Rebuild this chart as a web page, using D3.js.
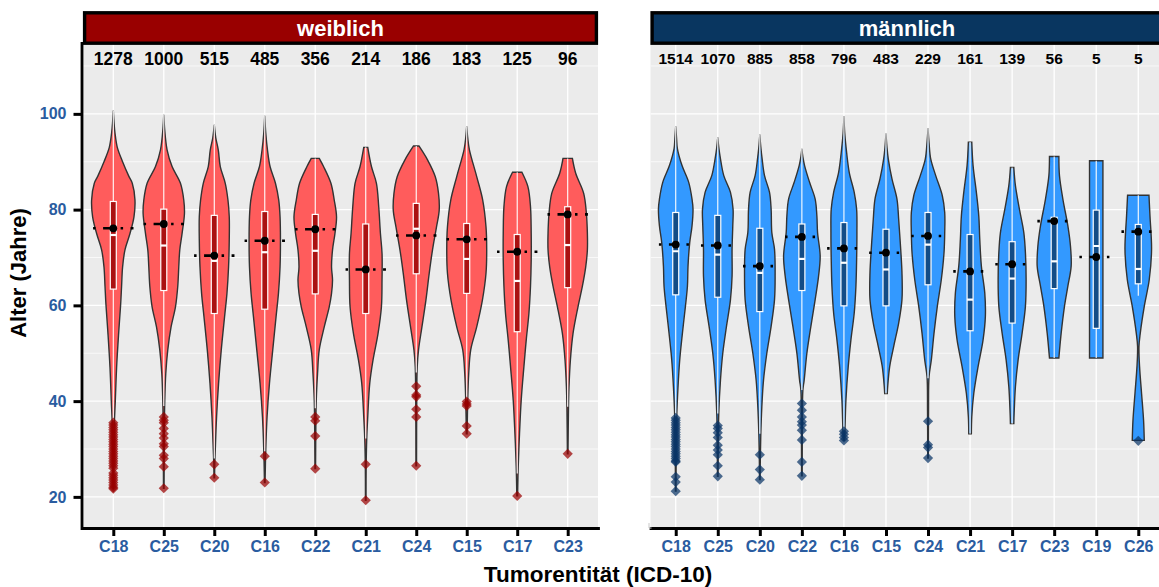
<!DOCTYPE html>
<html><head><meta charset="utf-8">
<script src="https://cdn.jsdelivr.net/npm/d3@7"></script>
<style>
body{margin:0;background:#fff}
svg{display:block}
text{font-family:"Liberation Sans",Arial,Helvetica,sans-serif;font-weight:bold}
</style>
</head><body>
<svg id="chart" width="1159" height="587"></svg>
<script>
// ---------------- DATA ----------------
const yTicks = [20, 40, 60, 80, 100];
const yMinorTicks = [30, 50, 70, 90, 110];
const yTitle = "Alter (Jahre)";
const xTitle = "Tumorentität (ICD-10)";
const facetLabels = ["weiblich", "männlich"];

// weiblich
const femaleCats = ["C18","C25","C20","C16","C22","C21","C24","C15","C17","C23"];
const femaleCounts = [1278,1000,515,485,356,214,186,183,125,96];
const femaleQ1 = [63.4,63.1,58.3,59.2,62.4,58.3,66.6,62.5,54.5,63.7];
const femaleMedian = [74.7,72.5,69.3,71.1,71.4,67.5,76.0,69.7,65.1,72.6];
const femaleQ3 = [81.7,80.1,78.8,79.6,79.0,77.0,81.3,77.1,74.8,80.6];
const femaleWhiskerLow = [36.0,39.0,28.0,29.5,38.5,32.2,46.0,40.6,24.9,38.8];
const femaleWhiskerHigh = [100.7,99.8,97.7,99.6,90.7,93.0,93.3,97.4,87.8,90.7];
const femaleMean = [76.1,77.0,70.4,73.5,75.9,67.5,74.6,73.8,71.2,79.0];
const femaleOutliers = [
  [35.5,35,34.5,34,33.5,33,32.5,32,31.5,31,30.5,30,29.5,29,28.5,28,27.5,27,26.5,26,25,24.5,24,23.5,23,22.5,22,21.7],
  [36.7,36,35.5,34.3,33.2,32.3,31.1,30.5,28.7,28,26.3,21.8],
  [26.8,24.0],
  [28.5,23.0],
  [36.7,35.9,32.7,25.9],
  [26.8,19.3],
  [43.1,41.3,40.9,38.3,36.7,26.5],
  [39.9,39.4,39.0,34.8,33.2],
  [20.2],
  [29.0]
];
// violin profiles: [age, relative density]
const femaleViolins = [
  [[100.7,0],[98,0.8],[96,1.7],[93,4],[90,9.3],[87,15.5],[85.5,19],[82,21.7],[78.5,20.7],[75,16.7],[71.6,11.7],[68,9.3],[64,8.3],[60,7.3],[54,5.3],[47,3.3],[40,2],[35,1],[30,0.6],[21.7,0.3]],
  [[99.8,0],[97,0.8],[92.5,3.3],[89,8.3],[85.5,16.7],[82,20],[79.2,20.7],[75,18.3],[71.6,16],[68,15],[64,14],[59.7,11.7],[55.5,7.3],[50.7,4],[45.8,2],[40.2,1],[35,0.6],[28,0.4],[21.8,0.3]],
  [[97.7,0],[95,1.5],[92.5,4],[89,6],[85.5,11],[82,13.7],[78.5,15],[73.7,15],[68,14.3],[62.5,12.7],[57.6,10.3],[50.7,7],[43.7,4.3],[36.7,2.3],[29.8,1],[27,0.5],[24,0.3]],
  [[99.6,0],[96,1],[92.5,2.7],[89,5.3],[85.5,10.7],[82,14],[78.5,15.3],[73.7,15.7],[68,15.3],[62.5,13.7],[57.6,11.3],[50.7,8],[43.7,4.7],[36.7,2.3],[29.8,1],[23,0.3]],
  [[90.7,4],[89,8.3],[85.5,15.7],[82,19],[78.5,21.3],[75,19.7],[71.6,17.3],[68,16.3],[65.3,17.3],[62.5,16.3],[59.7,14],[55.5,9],[50.7,4],[45.8,2.3],[40.2,1],[35,0.6],[25.9,0.3]],
  [[93,2],[89,5.7],[85.5,10.7],[80.6,13],[75,14.7],[70.9,16.3],[65.3,16.3],[59.7,15.7],[54.1,12.3],[48.6,7.3],[43.7,4],[36.7,2],[32.2,1],[26,0.4],[19.3,0.3]],
  [[93.3,2.7],[90.4,11.3],[86.9,19],[83.4,22.3],[79.9,23],[76.4,20.3],[71.6,16.3],[66.7,13],[61.1,9.7],[55.5,5.7],[50.7,2.3],[47.2,1],[40,0.5],[26.5,0.3]],
  [[97.4,0],[95,1],[92.5,2.7],[86.9,10],[82,16],[76.4,19.3],[71.6,20],[66.7,19.3],[61.1,15.7],[55.5,10],[50.7,4],[45.8,2],[40.2,1],[33.2,0.4]],
  [[87.8,4.7],[84.8,10.7],[80.6,13.3],[75,14],[69.5,14],[64,13.3],[58.3,11.7],[52.7,9],[47.2,6.7],[40.2,4],[33.2,2.3],[26.3,1],[20.2,0.4]],
  [[90.7,4.7],[87.6,8],[83.4,16],[79.2,18.7],[75,19.7],[71.6,19.7],[68,18],[64,14.7],[59.7,10.3],[54.1,5.3],[48.6,2.7],[43,1.3],[38.8,0.8],[29,0.3]]
];

// männlich
const maleCats = ["C18","C25","C20","C22","C16","C15","C24","C21","C17","C23","C19","C26"];
const maleCounts = [1514,1070,885,858,796,483,229,161,139,56,5,5];
const maleQ1 = [62.2,61.7,58.7,63.1,59.9,59.9,64.3,54.7,56.3,63.5,55.2,64.5];
const maleMedian = [71.3,70.6,66.8,69.7,68.9,67.5,72.7,61.2,65.6,69.2,72.4,67.6];
const maleQ3 = [79.4,78.8,76.1,77.0,77.3,75.9,79.4,74.8,73.3,78.4,79.9,76.9];
const maleWhiskerLow = [36.8,37.4,33.2,42.3,33.9,41.6,44.8,33.2,35.3,49.0,49.0,62.0];
const maleWhiskerHigh = [97.4,95.1,95.7,92.7,99.5,95.9,97.0,94.1,88.8,91.1,90.2,83.0];
const maleMean = [72.7,72.5,68.2,74.3,71.9,71.0,74.5,67.1,68.6,77.6,70.1,75.4];
const maleOutliers = [
  [36.5,36,35.5,35,34.5,34,33.5,33,32.5,32,31.5,31,30.5,30,29.5,29,28.5,28,27.5,27.3,24.2,23.1,21.2],
  [34.9,34.3,33.4,32.4,30.8,29.8,28.8,26.5,24.3],
  [28.8,25.7,23.6],
  [39.5,38.1,36.7,35.7,35.0,33.9,31.9,27.3,24.4],
  [33.7,33.1,32.4,31.8],
  [],
  [35.8,30.9,30.3,28.1],
  [],
  [],
  [],
  [],
  [31.7]
];
const maleViolins = [
  [[97.4,0],[95,0.8],[92.7,1.7],[89.2,6.3],[85.7,13],[82.2,16.3],[80.1,17.3],[76.6,16.3],[73.1,14],[68.2,12.3],[64,11.7],[59.8,9.7],[54.2,6.7],[48.6,4],[43,2.3],[36.7,1],[30,0.5],[21.2,0.3]],
  [[95.1,0],[93,1],[90.6,2.7],[87.1,6],[83.6,12.7],[80.1,15.3],[76.6,15],[71.7,14.3],[66.1,14.3],[61.2,12.7],[55.6,8.7],[50,5],[44.4,2.7],[37.4,1],[30,0.5],[24.3,0.3]],
  [[95.7,0],[93,1],[90.6,2.3],[87.1,4.7],[83.6,9.7],[80.1,11.3],[75.2,12],[71.7,14.7],[66.1,15.3],[61.2,14.7],[55.6,11.3],[50,7],[44.4,3.7],[38.8,2],[33.2,1],[28,0.5],[23.6,0.3]],
  [[92.7,0],[91,1],[89.2,2.7],[85.7,7.7],[82.2,13.3],[78.7,15],[75.2,15.7],[70.3,18.3],[66.1,16.7],[61.2,13.3],[55.6,9],[50,5],[44.4,2.3],[42.3,1],[35,0.5],[24.4,0.3]],
  [[99.5,0],[96,0.8],[92.7,2.3],[87.8,5.3],[83.6,10.3],[80.1,12.7],[75.2,13],[69.6,12.7],[64,12],[58.4,10.3],[52.8,7],[47.2,4.3],[40.2,2],[33.9,1],[31.8,0.5]],
  [[95.9,0],[93,1],[90.6,2.3],[86.4,6],[82.2,11],[78,12.7],[73.1,14.3],[66.8,16],[61.2,16],[56.3,12.7],[51.4,7.7],[47.2,3.7],[43,1.7],[41.6,1.3]],
  [[97,0],[94,1],[90.6,2.7],[87.1,7.7],[82.9,14.3],[79.4,16.7],[75.2,16.7],[71,16],[65.4,13.3],[59.8,9.3],[54.2,6],[48.6,3.3],[45.1,1],[38,0.5],[28.1,0.3]],
  [[94.1,1.7],[89.2,3],[83.6,6.3],[78.7,8.7],[73.8,9.7],[68.2,11.3],[62.6,14.7],[57.7,15.3],[52.8,13],[47.2,8],[41.6,3.7],[36.7,1.7],[33.2,1.3]],
  [[88.8,1.7],[85,3.3],[80.1,7.3],[75.2,11.7],[71,13.3],[65.4,14],[59.8,13.3],[54.2,10],[48.6,6],[43,3.3],[37.4,2],[35.3,1.7]],
  [[91.1,4.7],[87.1,5.3],[82.2,8.7],[76.6,13.7],[72.4,16.3],[68.2,17],[64,13.7],[59.8,10.3],[54.2,7],[49,4.7]],
  [[90.2,6.7],[80,6.7],[70,6.7],[60,6.7],[49,6.7]],
  [[83,10.7],[78.7,11.7],[71.7,13.3],[65.4,11],[59.8,6],[54.2,2],[51.4,0.7],[47.2,1.3],[41.6,3.3],[36,5.3],[31.8,6]]
];

// ---------------- CHART ----------------
const svg = d3.select("#chart");
const panelTop = 43, panelBottom = 528;
const y = d3.scaleLinear().domain([13.5, 114.8]).range([panelBottom, panelTop]);
const countY = 111.5;
const tickBlue = "#2A5CA0";

const panels = [
  {label: facetLabels[0], cats: femaleCats, counts: femaleCounts, q1: femaleQ1, med: femaleMedian, q3: femaleQ3,
   wlo: femaleWhiskerLow, whi: femaleWhiskerHigh, mean: femaleMean, out: femaleOutliers, vio: femaleViolins,
   left: 83, right: 598, strip: "#990000", fill: "#FF5C5C", boxFill: "#AA1111", outFill: "#990000",
   countSize: 17.5, widthFrac: 0.455, yAxis: true},
  {label: facetLabels[1], cats: maleCats, counts: maleCounts, q1: maleQ1, med: maleMedian, q3: maleQ3,
   wlo: maleWhiskerLow, whi: maleWhiskerHigh, mean: maleMean, out: maleOutliers, vio: maleViolins,
   left: 650.5, right: 1163.5, strip: "#093660", fill: "#3399FF", boxFill: "#134C86", outFill: "#0A3566",
   countSize: 15.5, widthFrac: 0.435, yAxis: false}
];

const defs = svg.append("defs");

panels.forEach((p, pi) => {
  const x = d3.scalePoint().domain(p.cats).range([p.left, p.right]).padding(0.6);
  const step = x.step();
  const maxD = d3.max(p.vio, v => d3.max(v, d => d[1]));
  const w = d3.scaleLinear().domain([0, maxD]).range([0, p.widthFrac * step]);

  defs.append("clipPath").attr("id", "clip" + pi)
    .append("rect").attr("x", p.left).attr("y", panelTop).attr("width", p.right - p.left).attr("height", panelBottom - panelTop);

  const g = svg.append("g");
  g.append("rect").attr("x", p.left).attr("y", panelTop).attr("width", p.right - p.left)
    .attr("height", panelBottom - panelTop).attr("fill", "#EBEBEB");

  const grid = g.append("g").attr("clip-path", `url(#clip${pi})`);
  grid.selectAll(".minor").data(yMinorTicks).join("line")
    .attr("x1", p.left).attr("x2", p.right).attr("y1", d => y(d)).attr("y2", d => y(d))
    .attr("stroke", "#fff").attr("stroke-width", 0.7);
  grid.selectAll(".major").data(yTicks).join("line").attr("class", "major")
    .attr("x1", p.left).attr("x2", p.right).attr("y1", d => y(d)).attr("y2", d => y(d))
    .attr("stroke", "#fff").attr("stroke-width", 1.3);
  grid.selectAll(".vgrid").data(p.cats).join("line").attr("class", "vgrid")
    .attr("x1", d => x(d)).attr("x2", d => x(d)).attr("y1", panelTop).attr("y2", panelBottom)
    .attr("stroke", "#fff").attr("stroke-width", 1.3);

  const plot = g.append("g").attr("clip-path", `url(#clip${pi})`);

  p.cats.forEach((c, i) => {
    const cx = x(c);
    const area = d3.area()
      .curve(d3.curveCatmullRom.alpha(0.5))
      .y(d => y(d[0]))
      .x0(d => cx - w(d[1]))
      .x1(d => cx + w(d[1]));
    const cg = plot.append("g");
    cg.append("path").attr("d", area(p.vio[i]))
      .attr("fill", p.fill).attr("stroke", "#333").attr("stroke-width", 1.4);
    // whiskers
    cg.append("line").attr("x1", cx).attr("x2", cx).attr("y1", y(p.q3[i])).attr("y2", y(p.whi[i]))
      .attr("stroke", "#fff").attr("stroke-width", 1.1);
    cg.append("line").attr("x1", cx).attr("x2", cx).attr("y1", y(p.q1[i])).attr("y2", y(p.wlo[i]))
      .attr("stroke", "#fff").attr("stroke-width", 1.1);
    // box
    const bw = 6;
    cg.append("rect").attr("x", cx - bw / 2).attr("width", bw)
      .attr("y", y(p.q3[i])).attr("height", y(p.q1[i]) - y(p.q3[i]))
      .attr("fill", p.boxFill).attr("stroke", "#fff").attr("stroke-width", 1.2);
    cg.append("line").attr("x1", cx - bw / 2).attr("x2", cx + bw / 2)
      .attr("y1", y(p.med[i])).attr("y2", y(p.med[i]))
      .attr("stroke", "#fff").attr("stroke-width", 2.2);
    // outliers
    cg.selectAll(".out").data(p.out[i]).join("path").attr("class", "out")
      .attr("d", d3.symbol().type(d3.symbolSquare).size(52)())
      .attr("transform", d => `translate(${cx},${y(d)}) rotate(45)`)
      .attr("fill", p.outFill).attr("fill-opacity", 0.72);
  });

  // mean errorbars + points (on top)
  p.cats.forEach((c, i) => {
    const cx = x(c);
    plot.append("line").attr("x1", cx - 0.4 * step).attr("x2", cx + 0.4 * step)
      .attr("y1", y(p.mean[i])).attr("y2", y(p.mean[i]))
      .attr("stroke", "#000").attr("stroke-width", 2.6).attr("stroke-dasharray", "2.5,7.5,10,7.5");
    plot.append("circle").attr("cx", cx).attr("cy", y(p.mean[i])).attr("r", 3.9).attr("fill", "#000");
  });

  // counts
  g.selectAll(".cnt").data(p.cats).join("text").attr("class", "cnt")
    .attr("x", d => x(d)).attr("y", y(countY)).attr("text-anchor", "middle")
    .attr("dominant-baseline", "central").attr("font-size", p.countSize).attr("fill", "#000")
    .text((d, i) => p.counts[i]);

  // strip
  svg.append("rect").attr("x", p.left + 1.6).attr("y", 12.8).attr("width", p.right - p.left - 3.2).attr("height", 30.4)
    .attr("fill", p.strip).attr("stroke", "#000").attr("stroke-width", 3.4);
  svg.append("text").attr("x", (p.left + p.right) / 2).attr("y", 28.3).attr("text-anchor", "middle")
    .attr("dominant-baseline", "central").attr("font-size", 22).attr("fill", "#fff").text(p.label);

  // x axis
  const xa = svg.append("g").attr("transform", `translate(0,${panelBottom})`)
    .call(d3.axisBottom(x).tickSize(8).tickSizeOuter(0).tickPadding(4.5));
  xa.select(".domain").attr("stroke", "#000").attr("stroke-width", 2.8).attr("stroke-linecap", "square");
  xa.selectAll(".tick line").attr("stroke", "#000").attr("stroke-width", 3);
  xa.selectAll(".tick text").style("font-size", "16px").style("font-weight", "bold").attr("fill", tickBlue);

  if (p.yAxis) {
    const ya = svg.append("g").attr("transform", `translate(${p.left - 1.5},0)`)
      .call(d3.axisLeft(y).tickValues(yTicks).tickSize(8).tickSizeOuter(0).tickPadding(7));
    ya.select(".domain").attr("stroke", "#000").attr("stroke-width", 2.8).attr("stroke-linecap", "square");
    ya.selectAll(".tick line").attr("stroke", "#000").attr("stroke-width", 3);
    ya.selectAll(".tick text").style("font-size", "16px").style("font-weight", "bold").attr("fill", tickBlue);
  } else {
    svg.append("path").attr("d", `M${p.left - 1.5},${panelBottom - 5}V${panelBottom}H${p.left + 1}`)
      .attr("fill", "none").attr("stroke", "#C8C8C8").attr("stroke-width", 1);
  }
});

// axis titles
svg.append("text").attr("transform", "translate(26,273) rotate(-90)").attr("text-anchor", "middle")
  .attr("font-size", 22).attr("fill", "#000").text(yTitle);
svg.append("text").attr("x", 598).attr("y", 582).attr("text-anchor", "middle")
  .attr("font-size", 22.5).attr("fill", "#000").text(xTitle);
</script>
</body></html>
